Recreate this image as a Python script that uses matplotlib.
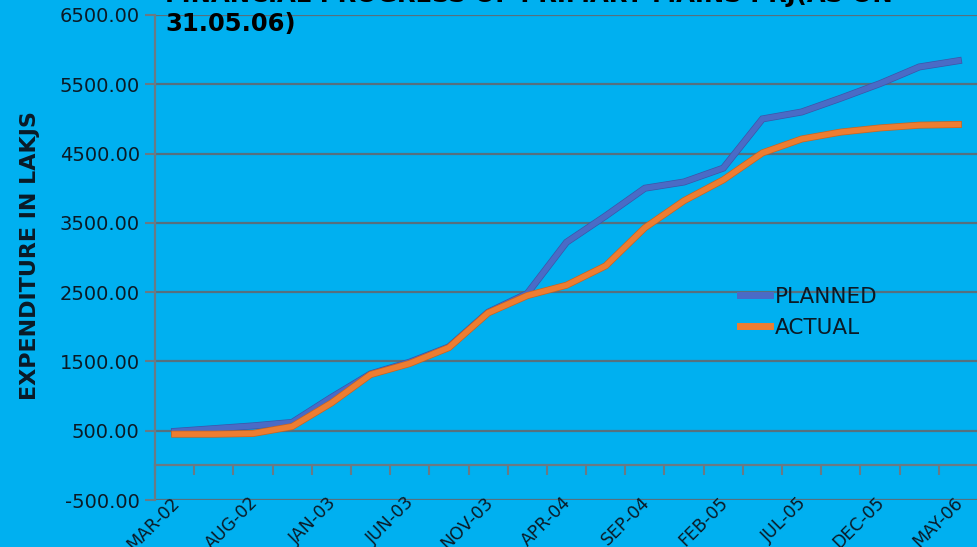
import numpy as np
import matplotlib
matplotlib.use("Agg")
import matplotlib.pyplot as plt
import matplotlib.patheffects as pe

# Reporting periods (only every second one is labelled on the axis)
periods = ["MAR-02", "MAY-02", "AUG-02", "OCT-02", "JAN-03", "MAR-03", "JUN-03",
           "AUG-03", "NOV-03", "JAN-04", "APR-04", "JUN-04", "SEP-04", "NOV-04",
           "FEB-05", "APR-05", "JUL-05", "SEP-05", "DEC-05", "FEB-06", "MAY-06"]

# Cumulative expenditure in lakhs
planned = [490, 530, 570, 620, 980, 1320, 1490, 1710, 2210, 2480, 3220, 3600,
           4000, 4090, 4290, 5000, 5100, 5300, 5510, 5750, 5840]
actual = [450, 450, 460, 560, 900, 1310, 1470, 1700, 2200, 2450, 2600, 2880,
          3430, 3820, 4120, 4510, 4710, 4810, 4870, 4910, 4920]

y_ticks = [-500, 500, 1500, 2500, 3500, 4500, 5500, 6500]

title_text = "FINANCIAL PROGRESS OF PRIMARY MAINS PRJ(AS ON\n31.05.06)"
y_label = "EXPENDITURE IN LAKJS"

BG = "#00B0F0"
GRID = "#56707e"
TEXT = "#0b1a26"
BLUE = "#4A6BC6"
ORANGE = "#ED7D31"

W, H = 977, 547
fig = plt.figure(figsize=(W / 100, H / 100), dpi=100, facecolor=BG)
ax = fig.add_axes([155 / W, 1 - 500 / H, 823 / W, 485 / H], facecolor=BG)

x = np.arange(len(periods))

ax.plot(x, planned, color=BLUE, lw=4.0, solid_joinstyle="miter", zorder=3,
        path_effects=[pe.Stroke(linewidth=5.0, foreground="#3a56a8"), pe.Normal()],
        label="PLANNED")
ax.plot(x, actual, color=ORANGE, lw=4.0, solid_joinstyle="miter", zorder=4,
        path_effects=[pe.Stroke(linewidth=5.0, foreground="#c9641f"), pe.Normal()],
        label="ACTUAL")

ax.set_xlim(-0.5, len(periods) - 0.5)
ax.set_ylim(-500, 6500)
ax.set_yticks(y_ticks)
ax.set_yticklabels([f"{v:.2f}" for v in y_ticks], fontsize=14, color=TEXT)
ax.tick_params(axis="y", direction="out", length=7, width=1.5, color="#6a7a84", pad=4)

ax.yaxis.grid(True, color=GRID, lw=1.6)
ax.set_axisbelow(True)

for s in ["top", "right"]:
    ax.spines[s].set_visible(False)
ax.spines["left"].set_color("#6a7a84")
ax.spines["left"].set_linewidth(1.6)
ax.spines["bottom"].set_position(("data", 0))
ax.spines["bottom"].set_color("#6a7a84")
ax.spines["bottom"].set_linewidth(1.6)

# Category boundaries get the tick marks, centres carry no tick
ax.set_xticks(x)
ax.set_xticklabels([])
ax.tick_params(axis="x", which="major", length=0)
ax.set_xticks(np.arange(-0.5, len(periods), 1.0), minor=True)
ax.tick_params(axis="x", which="minor", direction="out", length=7, width=1.5,
               color="#6a7a84")

for i, lab in enumerate(periods):
    if i % 2 == 0:
        ax.text(i + 0.05, -500, lab, rotation=45, rotation_mode="anchor",
                ha="right", va="center", fontsize=12.5, color=TEXT,
                clip_on=False)

fig.text(30 / W, 1 - 256 / H, y_label, rotation=90, ha="center", va="center",
         fontsize=16, fontweight="bold", color=TEXT)

fig.text(165 / W, 1 - 36 / H, title_text, ha="left", va="bottom",
         fontsize=17.5, fontweight="bold", color="#000000", linespacing=1.28)

leg = ax.legend(loc="upper left", bbox_to_anchor=(740 / W, 1 - 287 / H),
                bbox_transform=fig.transFigure, frameon=False, fontsize=15.5,
                handlelength=1.4, handletextpad=0.2, labelspacing=0.5,
                borderpad=0, borderaxespad=0)
for t in leg.get_texts():
    t.set_color(TEXT)
for h in leg.legend_handles:
    h.set_linewidth(5)
    h.set_path_effects([])

fig.savefig("out.png", dpi=100, facecolor=BG)
